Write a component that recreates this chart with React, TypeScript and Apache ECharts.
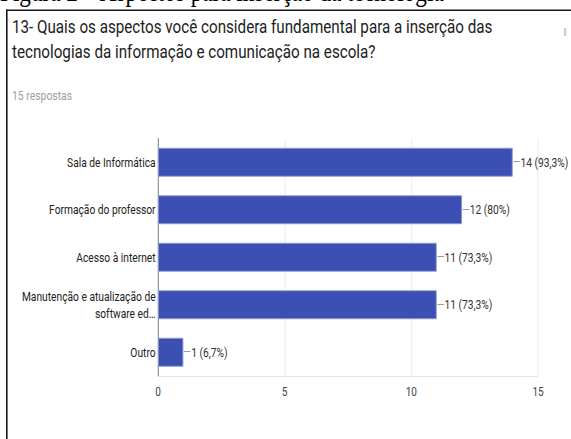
import React, { useEffect, useRef } from "react";
import * as echarts from "echarts";

const categories = [
  "Sala de Informática",
  "Formação do professor",
  "Acesso à internet",
  "Manutenção e atualização de\nsoftware ed…",
  "Outro",
];
const values = [14, 12, 11, 11, 1];
const percents = ["93,3%", "80%", "73,3%", "73,3%", "6,7%"];
const xTicks = [0, 5, 10, 15];

const captionText = "Figura 2 – Aspectos para inserção da tecnologia";
const titleText =
  "13- Quais os aspectos você considera fundamental para a inserção das\ntecnologias da informação e comunicação na escola?";
const subtitleText = "15 respostas";

const SX = 0.8;
const W = 571;
const H = 439;
const CW = Math.round(W / SX);

export default function App() {
  const ref = useRef<HTMLDivElement>(null);
  useEffect(() => {
    if (!ref.current) return;
    const chart = echarts.init(ref.current, undefined, { renderer: "svg" });
    const font = "Roboto, 'Noto Sans', sans-serif";
    chart.setOption({
      animation: false,
      grid: { left: 197.5, right: CW - 672.5, top: 138.5, bottom: 63, containLabel: false },
      xAxis: {
        type: "value",
        min: xTicks[0],
        max: xTicks[xTicks.length - 1],
        interval: 5,
        axisLine: { show: true, lineStyle: { color: "#e3e3e3", width: 1 } },
        axisTick: { show: false },
        splitLine: { show: true, lineStyle: { color: "#ebebeb", width: 1 } },
        axisLabel: { color: "#444", fontSize: 12.5, fontFamily: font, margin: 10 },
      },
      yAxis: {
        type: "category",
        inverse: true,
        data: categories,
        axisLine: { show: true, lineStyle: { color: "#9a9a9a", width: 1.5 } },
        axisTick: { show: false },
        axisLabel: {
          color: "#222",
          fontSize: 12.8,
          fontFamily: font,
          margin: 3,
          lineHeight: 17,
          align: "right",
        },
      },
      series: [
        {
          type: "bar",
          data: values,
          barWidth: 29,
          itemStyle: { color: "#3c50b4", borderColor: "#8e9bd6", borderWidth: 1 },
          label: {
            show: true,
            position: "right",
            distance: 0,
            formatter: (p: any) => `{d|—}{t|${p.value} (${percents[p.dataIndex]})}`,
            rich: {
              d: { color: "#9a9a9a", fontSize: 12.5, fontFamily: font },
              t: { color: "#333", fontSize: 12.8, fontFamily: font },
            },
          },
        },
      ],
      graphic: [
        {
          type: "text",
          x: 0,
          y: -8,
          style: {
            text: captionText,
            font: "29px 'Liberation Serif', 'DejaVu Serif', serif",
            fill: "#000",
            verticalAlign: "middle",
          },
        },
        { type: "rect", shape: { x: 7.5, y: 9.5, width: CW, height: 1.5 }, style: { fill: "#1a1a1a" } },
        { type: "rect", shape: { x: 7.5, y: 9.5, width: 2, height: H }, style: { fill: "#1a1a1a" } },
        { type: "rect", shape: { x: 705, y: 28, width: 3, height: 8 }, style: { fill: "#d0d0d0" } },
        {
          type: "text",
          x: 15,
          y: 14,
          style: {
            text: titleText,
            font: `19px ${font}`,
            lineHeight: 25,
            fill: "#212121",
            verticalAlign: "top",
          },
        },
        {
          type: "text",
          x: 15,
          y: 96,
          style: {
            text: subtitleText,
            font: `13px ${font}`,
            fill: "#9e9e9e",
            verticalAlign: "middle",
          },
        },
      ],
    });
    return () => chart.dispose();
  }, []);
  return (
    <div style={{ position: "fixed", left: 0, top: 0, width: W, height: H, overflow: "hidden", background: "#fff" }}>
      <div
        ref={ref}
        style={{ width: CW, height: H, transform: `scaleX(${SX})`, transformOrigin: "0 0" }}
      />
    </div>
  );
}
